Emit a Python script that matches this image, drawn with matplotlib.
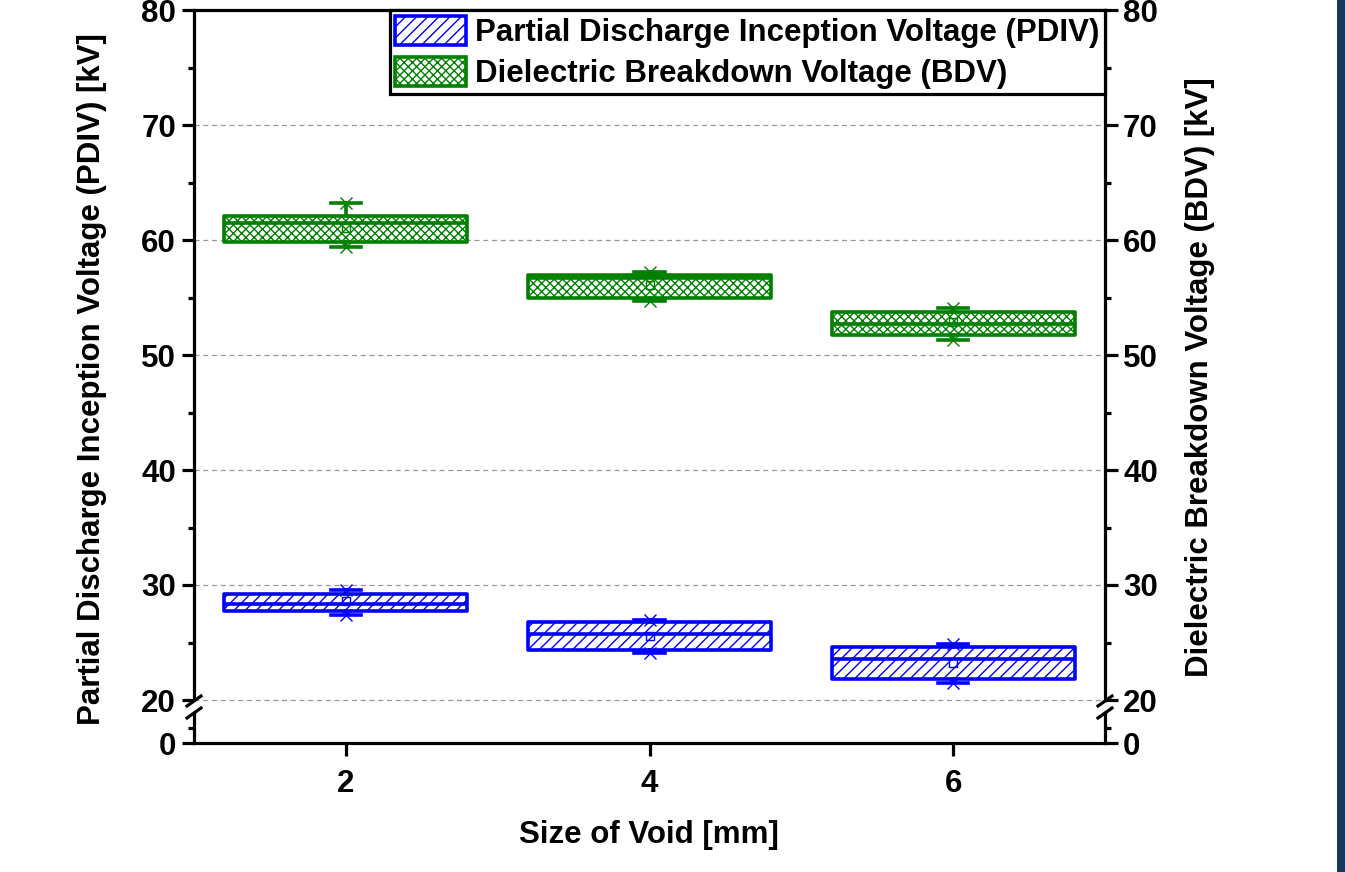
import matplotlib
matplotlib.use("Agg")
import matplotlib.pyplot as plt
from matplotlib.patches import Patch, Rectangle
from matplotlib.lines import Line2D
from matplotlib.ticker import MultipleLocator, FixedLocator

plt.rcParams['font.family'] = ['Liberation Sans', 'DejaVu Sans']
plt.rcParams['font.weight'] = 'bold'
plt.rcParams['hatch.linewidth'] = 1.0

# ---- data ----
sizes = [2, 4, 6]
pdiv_q1 = [27.7, 24.35, 21.8]
pdiv_q3 = [29.25, 26.75, 24.6]
pdiv_med = [28.35, 25.7, 23.6]
pdiv_mean = [28.6, 25.55, 23.2]
pdiv_min = [27.4, 24.05, 21.45]
pdiv_max = [29.55, 26.95, 24.9]

bdv_q1 = [59.8, 54.95, 51.7]
bdv_q3 = [62.05, 56.95, 53.75]
bdv_med = [61.45, 56.7, 52.7]
bdv_mean = [61.05, 56.1, 52.9]
bdv_min = [59.4, 54.7, 51.3]
bdv_max = [63.2, 57.25, 54.05]

upper_ticks = [20, 30, 40, 50, 60, 70, 80]
lower_ticks = [0]
xlabel = "Size of Void [mm]"
ylabel_left = "Partial Discharge Inception Voltage (PDIV) [kV]"
ylabel_right = "Dielectric Breakdown Voltage (BDV) [kV]"
labels = ["Partial Discharge Inception Voltage (PDIV)", "Dielectric Breakdown Voltage (BDV)"]

BLUE = '#0000FF'
GREEN = '#008000'
FS = 22.5

W, H = 1345, 872
fig = plt.figure(figsize=(W / 100, H / 100), dpi=100)
L, R = 194 / W, 1105 / W
ax = fig.add_axes([L, 1 - 700 / H, R - L, 690 / H])
axb = fig.add_axes([L, 1 - 743 / H, R - L, 30 / H])


def stats(q1, q3, med, mean, lo, hi):
    return [dict(q1=a, q3=b, med=c, mean=d, whislo=e, whishi=f, fliers=[])
            for a, b, c, d, e, f in zip(q1, q3, med, mean, lo, hi)]


def draw(data, color, hatch, lo, hi):
    lw = 2.6
    ax.bxp(data, positions=sizes, widths=1.6, capwidths=0.2, patch_artist=True,
           showmeans=True, manage_ticks=False,
           boxprops=dict(facecolor='white', edgecolor=color, linewidth=lw, hatch=hatch,
                         joinstyle='round'),
           medianprops=dict(color=color, linewidth=lw),
           whiskerprops=dict(color=color, linewidth=lw),
           capprops=dict(color=color, linewidth=lw),
           meanprops=dict(marker='s', markerfacecolor='none', markeredgecolor=color,
                          markersize=6, markeredgewidth=1.0),
           zorder=3)
    ax.plot(sizes, lo, ls='none', marker='x', color=color, ms=8, mew=1.0, zorder=4)
    ax.plot(sizes, hi, ls='none', marker='x', color=color, ms=8, mew=1.0, zorder=4)


draw(stats(pdiv_q1, pdiv_q3, pdiv_med, pdiv_mean, pdiv_min, pdiv_max), BLUE, '///', pdiv_min, pdiv_max)
draw(stats(bdv_q1, bdv_q3, bdv_med, bdv_mean, bdv_min, bdv_max), GREEN, 'xxxx', bdv_min, bdv_max)

for a in (ax, axb):
    a.set_xlim(1, 7)
    for s in a.spines.values():
        s.set_linewidth(2.3)
    a.tick_params(axis='both', which='major', direction='out', length=9, width=2.3,
                  labelsize=FS, left=True, right=True, labelleft=True, labelright=True, pad=4)
    a.tick_params(axis='y', which='minor', direction='out', length=4.5, width=2.3,
                  left=True, right=True)
    a.set_facecolor('none')

ax.set_ylim(20, 80)
ax.yaxis.set_major_locator(FixedLocator(upper_ticks))
ax.yaxis.set_minor_locator(MultipleLocator(5))
ax.set_yticklabels([str(t) for t in upper_ticks])
ax.tick_params(axis='x', which='both', bottom=False, top=False, labelbottom=False)
ax.spines['bottom'].set_visible(False)
ax.yaxis.grid(True, which='major', ls=(0, (4, 3)), color='#999999', lw=0.9)
for gl in ax.yaxis.get_gridlines():
    gl.set_clip_on(False)
ax.set_axisbelow(True)

axb.set_ylim(0, 10)
axb.yaxis.set_major_locator(FixedLocator(lower_ticks))
axb.yaxis.set_minor_locator(FixedLocator([5]))
axb.set_yticklabels([str(t) for t in lower_ticks])
axb.spines['top'].set_visible(False)
axb.set_xticks(sizes)
axb.set_xticklabels([str(s) for s in sizes])
axb.tick_params(axis='x', which='major', bottom=True, top=False, pad=10)

# break marks
for xf in (L, R):
    for yp in (701, 713):
        yf = 1 - yp / H
        fig.add_artist(Line2D([xf - 7 / W, xf + 7 / W], [yf - 5 / H, yf + 5 / H],
                              color='black', lw=2.3, transform=fig.transFigure))

# legend
handles = [Patch(facecolor='white', edgecolor=BLUE, hatch='///', linewidth=2.6),
           Patch(facecolor='white', edgecolor=GREEN, hatch='xxxx', linewidth=2.6)]
leg = ax.legend(handles, labels, loc='upper right', bbox_to_anchor=(1, 1),
                borderaxespad=0, frameon=True, fancybox=False, framealpha=1,
                edgecolor='black', prop=dict(size=FS, weight='bold'),
                handlelength=2.25, handleheight=1.05, labelspacing=0.28,
                borderpad=0.18, handletextpad=0.3)
leg.get_frame().set_linewidth(2.3)
leg.set_zorder(5)

# axis labels
fig.text(92 / W, 1 - 379 / H, ylabel_left, rotation=90, ha='center', va='center',
         fontsize=FS, fontweight='bold')
fig.text(1200 / W, 1 - 377 / H, ylabel_right, rotation=90, ha='center', va='center',
         fontsize=FS, fontweight='bold')
fig.text(649 / W, 1 - 835 / H, xlabel, ha='center', va='center',
         fontsize=FS, fontweight='bold')

# dark bar on the right edge
fig.add_artist(Rectangle((1337 / W, 0), 8 / W, 1, transform=fig.transFigure,
                         facecolor='#1b365d', edgecolor='none'))

fig.savefig('out.png', dpi=100)
